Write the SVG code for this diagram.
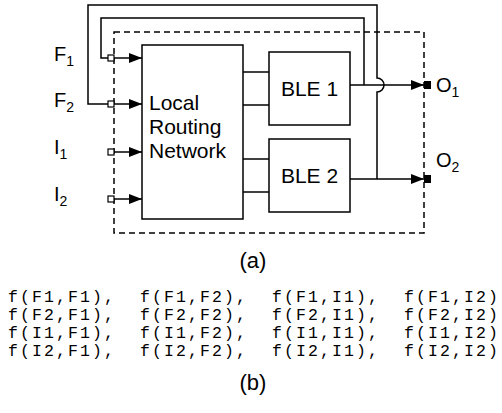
<svg xmlns="http://www.w3.org/2000/svg" width="502" height="413" viewBox="0 0 502 413">
<style>
.ln{fill:none;stroke:#000;stroke-width:1.5}
.box{fill:#fff;stroke:#000;stroke-width:1.5}
.dash{fill:none;stroke:#000;stroke-width:1.5;stroke-dasharray:6,4}
.sq{fill:#fff;stroke:#000;stroke-width:1.2}
.sqf{fill:#000;stroke:none}
.t{font-family:"Liberation Sans",Arial,sans-serif;fill:#000}
.lab{font-size:20px}
.sub{font-size:14px}
.nt{font-size:21px}
.cap{font-size:22px}
.code{font-family:"Liberation Mono","Courier New",monospace;font-size:16.5px;letter-spacing:2.1px;fill:#000;white-space:pre}
</style>
<defs>
<marker id="ah" viewBox="0 0 13 10" refX="13" refY="5" markerWidth="13" markerHeight="10" orient="auto" markerUnits="userSpaceOnUse">
<path d="M0,0 L13,5 L0,10 z" fill="#000"/>
</marker>
</defs>
<rect id="boundary" class="dash" x="114" y="32" width="310" height="201"/>
<g id="connectors">
<path class="ln" d="M364,85 V18 H101 V58 H108"/>
<path class="ln" d="M377,179 V92 A7,7 0 0 0 377,78 V5 H88 V104 H108"/>
<line class="ln" x1="114" y1="58" x2="142" y2="58" marker-end="url(#ah)"/>
<line class="ln" x1="114" y1="104" x2="142" y2="104" marker-end="url(#ah)"/>
<line class="ln" x1="114" y1="152" x2="142" y2="152" marker-end="url(#ah)"/>
<line class="ln" x1="114" y1="199" x2="142" y2="199" marker-end="url(#ah)"/>
<line class="ln" x1="243" y1="72" x2="269" y2="72"/>
<line class="ln" x1="243" y1="105" x2="269" y2="105"/>
<line class="ln" x1="243" y1="159" x2="269" y2="159"/>
<line class="ln" x1="243" y1="192" x2="269" y2="192"/>
<line class="ln" x1="350" y1="85" x2="424" y2="85" marker-end="url(#ah)"/>
<line class="ln" x1="350" y1="179" x2="424" y2="179" marker-end="url(#ah)"/>
</g>
<g id="in_F1"><rect class="sq" x="108" y="55" width="6" height="6"/><text class="t lab" x="54" y="61">F<tspan class="sub" dy="5">1</tspan></text></g>
<g id="in_F2"><rect class="sq" x="108" y="101" width="6" height="6"/><text class="t lab" x="54" y="107">F<tspan class="sub" dy="5">2</tspan></text></g>
<g id="in_I1"><rect class="sq" x="108" y="149" width="6" height="6"/><text class="t lab" x="54" y="154">I<tspan class="sub" dy="5">1</tspan></text></g>
<g id="in_I2"><rect class="sq" x="108" y="196" width="6" height="6"/><text class="t lab" x="54" y="201">I<tspan class="sub" dy="5">2</tspan></text></g>
<g id="lrn"><rect class="box" x="142" y="45" width="101" height="174"/>
<text class="t nt" x="149" y="110">Local</text>
<text class="t nt" x="149" y="134">Routing</text>
<text class="t nt" x="149" y="158">Network</text></g>
<g id="ble1"><rect class="box" x="269" y="52" width="81" height="73"/><text class="t nt" x="309.5" y="96" text-anchor="middle">BLE 1</text></g>
<g id="ble2"><rect class="box" x="269" y="139" width="81" height="73"/><text class="t nt" x="309.5" y="183" text-anchor="middle">BLE 2</text></g>
<g id="out_O1"><rect class="sqf" x="424" y="81" width="7" height="8"/><text class="t lab" x="436" y="92">O<tspan class="sub" dy="5">1</tspan></text></g>
<g id="out_O2"><rect class="sqf" x="424" y="175" width="7" height="8"/><text class="t lab" x="436" y="167">O<tspan class="sub" dy="5">2</tspan></text></g>
<text class="t cap" x="253" y="268" text-anchor="middle">(a)</text>
<g id="list" xml:space="preserve">
<text class="code" x="8" y="302">f(F1,F1),  f(F1,F2),  f(F1,I1),  f(F1,I2)</text>
<text class="code" x="8" y="320">f(F2,F1),  f(F2,F2),  f(F2,I1),  f(F2,I2)</text>
<text class="code" x="8" y="338">f(I1,F1),  f(I1,F2),  f(I1,I1),  f(I1,I2)</text>
<text class="code" x="8" y="356">f(I2,F1),  f(I2,F2),  f(I2,I1),  f(I2,I2)</text>
</g>
<text class="t cap" x="253" y="390" text-anchor="middle">(b)</text>
</svg>
